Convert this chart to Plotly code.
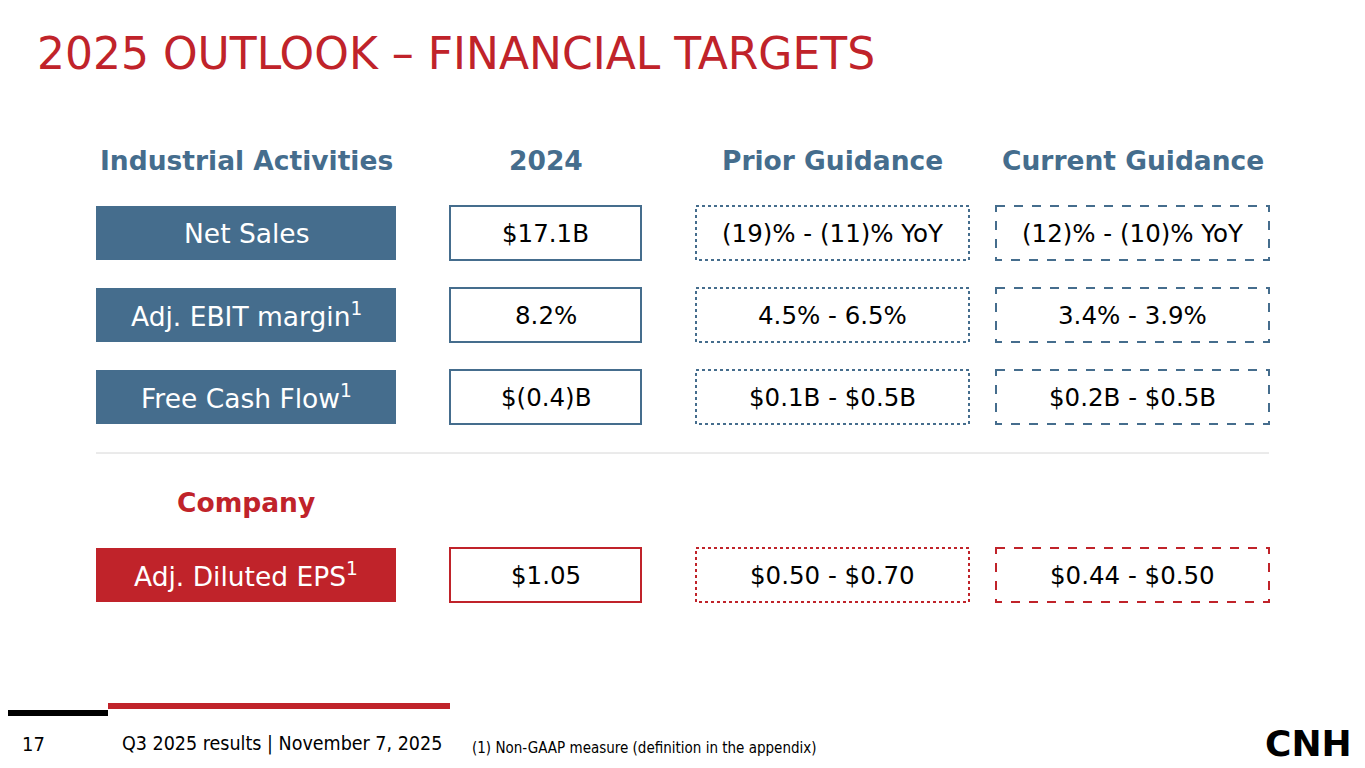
import plotly.graph_objects as go

# slide content
title = "2025 OUTLOOK \u2013 FINANCIAL TARGETS"
col_headers = ["Industrial Activities", "2024", "Prior Guidance", "Current Guidance"]
industrial_rows = ["Net Sales", "Adj. EBIT margin<sup>1</sup>", "Free Cash Flow<sup>1</sup>"]
industrial_2024 = ["$17.1B", "8.2%", "$(0.4)B"]
industrial_prior = ["(19)% - (11)% YoY", "4.5% - 6.5%", "$0.1B - $0.5B"]
industrial_current = ["(12)% - (10)% YoY", "3.4% - 3.9%", "$0.2B - $0.5B"]
company_header = "Company"
company_rows = ["Adj. Diluted EPS<sup>1</sup>"]
company_2024 = ["$1.05"]
company_prior = ["$0.50 - $0.70"]
company_current = ["$0.44 - $0.50"]
page_no = "17"
footer_text = "Q3 2025 results | November 7, 2025"
footnote = "(1) Non-GAAP measure (definition in the appendix)"

BLUE = "#456D8D"
RED = "#C0232A"
W, H = 1365, 768
OFF = 8  # page body margin in the browser
FONT = "DejaVu Sans"
FONT_C = "DejaVu Sans Condensed"

# column x-extents (pixels)
cols = [(96, 396), (450, 641), (696, 969), (996, 1269)]
box_h = 54

fig = go.Figure()
shapes = []
annotations = []


def text(x, y, s, size, color="black", bold=False, family=FONT, xanchor="center"):
    if bold:
        s = "<b>" + s + "</b>"
    annotations.append(dict(x=x, y=y, text=s, showarrow=False, xref="x", yref="y",
                            xanchor=xanchor, yanchor="middle",
                            font=dict(family=family, size=size, color=color)))


def row(y_top, label, v2024, vprior, vcur, color):
    yc = y_top + box_h / 2
    x0, x1 = cols[0]
    shapes.append(dict(type="rect", x0=x0, x1=x1, y0=y_top, y1=y_top + box_h,
                       fillcolor=color, line=dict(width=0), layer="below"))
    text((x0 + x1) / 2, yc, label, 26.5, "white")
    for (c0, c1), val, dash in zip(cols[1:], [v2024, vprior, vcur], ["solid", "dot", "dash"]):
        shapes.append(dict(type="rect", x0=c0, x1=c1, y0=y_top, y1=y_top + box_h,
                           fillcolor="white", line=dict(color=color, width=2, dash=dash)))
        text((c0 + c1) / 2, yc, val, 24.5)


# title
text(35, 53, title, 44, RED, xanchor="left")

# column headers
for (c0, c1), h in zip(cols, col_headers):
    text((c0 + c1) / 2, 160, h, 26.5, BLUE, bold=True)

for i, lab in enumerate(industrial_rows):
    row(206 + i * 82, lab, industrial_2024[i], industrial_prior[i], industrial_current[i], BLUE)

# separator
shapes.append(dict(type="line", x0=96, x1=1269, y0=453, y1=453, line=dict(color="#D6D6D6", width=1)))

text((cols[0][0] + cols[0][1]) / 2, 502, company_header, 26.5, RED, bold=True)
for i, lab in enumerate(company_rows):
    row(548 + i * 82, lab, company_2024[i], company_prior[i], company_current[i], RED)

# footer bars
shapes.append(dict(type="rect", x0=0, x1=108, y0=710, y1=716, fillcolor="black", line=dict(width=0)))
shapes.append(dict(type="rect", x0=108, x1=450, y0=703, y1=709, fillcolor=RED, line=dict(width=0)))
text(20, 744, page_no, 20, family=FONT_C, xanchor="left")
text(120, 743, footer_text, 19.5, family=FONT_C, xanchor="left")
text(470, 748, footnote, 15, family=FONT_C, xanchor="left")
text(1308, 743, "CNH", 36, bold=True, xanchor="center")

fig.update_layout(
    width=W, height=H, margin=dict(l=0, r=0, t=0, b=0),
    paper_bgcolor="white", plot_bgcolor="white",
    xaxis=dict(range=[OFF, W + OFF], visible=False, fixedrange=True),
    yaxis=dict(range=[H + OFF, OFF], visible=False, fixedrange=True),
    shapes=shapes, annotations=annotations, showlegend=False,
)
fig.write_html("out.html", config={"displayModeBar": False})
